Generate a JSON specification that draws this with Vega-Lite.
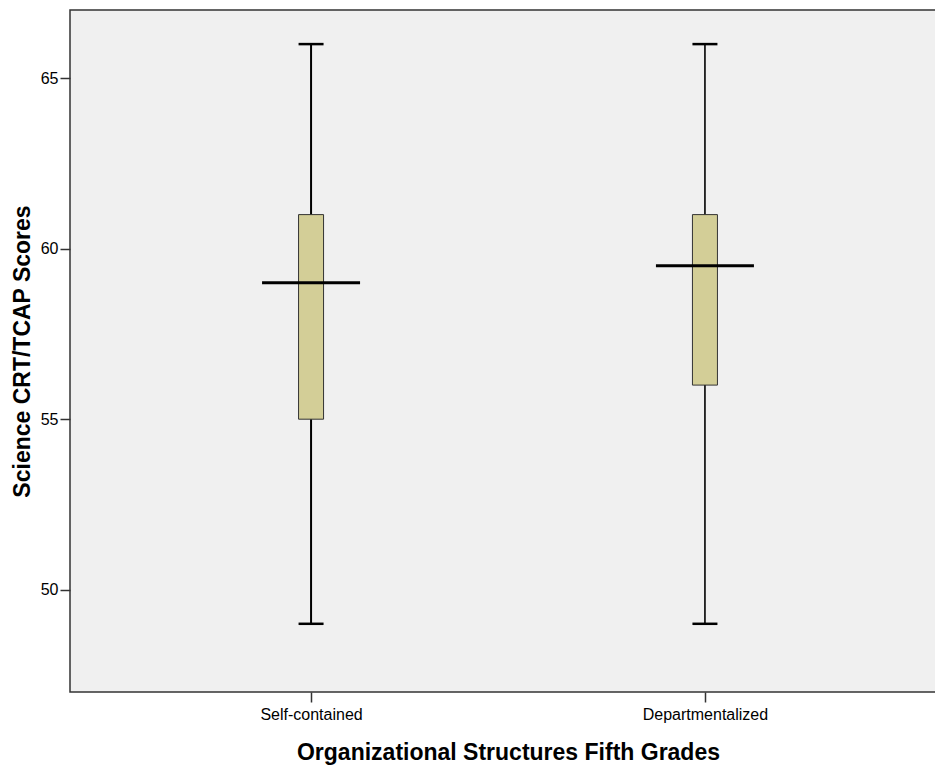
{
  "$schema": "https://vega.github.io/schema/vega-lite/v6.json",
  "width": 876,
  "height": 682,
  "autosize": "none",
  "padding": {"left": 70, "top": 10, "right": 0, "bottom": 73},
  "background": "white",
  "config": {
    "view": {"fill": "#F0F0F0", "stroke": "#333333", "strokeWidth": 1.5},
    "font": "Liberation Sans"
  },
  "data": {
    "values": [
      {"group": "Self-contained", "min": 49, "q1": 55, "median": 59, "q3": 61, "max": 66, "w": 2},
      {"group": "Departmentalized", "min": 49, "q1": 56, "median": 59.5, "q3": 61, "max": 66, "w": 1.6}
    ]
  },
  "encoding": {
    "x": {
      "field": "group",
      "type": "nominal",
      "sort": ["Self-contained", "Departmentalized"],
      "scale": {"type": "point", "padding": 0.612},
      "axis": {
        "title": "Organizational Structures Fifth Grades",
        "titleFont": "Liberation Sans",
        "titleFontSize": 23,
        "titleFontWeight": "bold",
        "titleColor": "#000000",
        "titlePadding": 19,
        "labelFontSize": 16,
        "labelColor": "#000000",
        "labelAngle": 0,
        "labelPadding": 4,
        "tickSize": 10,
        "tickColor": "#333333",
        "tickWidth": 1.5,
        "domain": false,
        "grid": false
      }
    }
  },
  "layer": [
    {
      "mark": {"type": "rule", "color": "#000000"},
      "encoding": {
        "y": {
          "field": "min",
          "type": "quantitative",
          "scale": {"domain": [47, 67], "nice": false, "zero": false},
          "axis": {
            "title": "Science CRT/TCAP Scores",
            "titleFont": "Liberation Sans",
            "titleFontSize": 23,
            "titleFontWeight": "bold",
            "titleColor": "#000000",
            "titlePadding": 6,
            "values": [50, 55, 60, 65],
            "labelFontSize": 16,
            "labelColor": "#000000",
            "labelPadding": 2,
            "tickSize": 10,
            "tickColor": "#333333",
            "tickWidth": 1.5,
            "domain": false,
            "grid": false
          }
        },
        "y2": {"field": "max"},
        "strokeWidth": {"field": "w", "type": "quantitative", "scale": null}
      }
    },
    {
      "mark": {"type": "bar", "size": 25, "fill": "#D3CE97", "stroke": "#333333", "strokeWidth": 1},
      "encoding": {
        "y": {"field": "q1", "type": "quantitative"},
        "y2": {"field": "q3"}
      }
    },
    {
      "mark": {"type": "tick", "size": 25, "thickness": 2.5, "color": "#000000", "opacity": 1},
      "encoding": {"y": {"field": "min", "type": "quantitative"}}
    },
    {
      "mark": {"type": "tick", "size": 25, "thickness": 2.5, "color": "#000000", "opacity": 1},
      "encoding": {"y": {"field": "max", "type": "quantitative"}}
    },
    {
      "mark": {"type": "tick", "size": 98, "thickness": 3, "color": "#000000", "opacity": 1},
      "encoding": {"y": {"field": "median", "type": "quantitative"}}
    }
  ]
}
